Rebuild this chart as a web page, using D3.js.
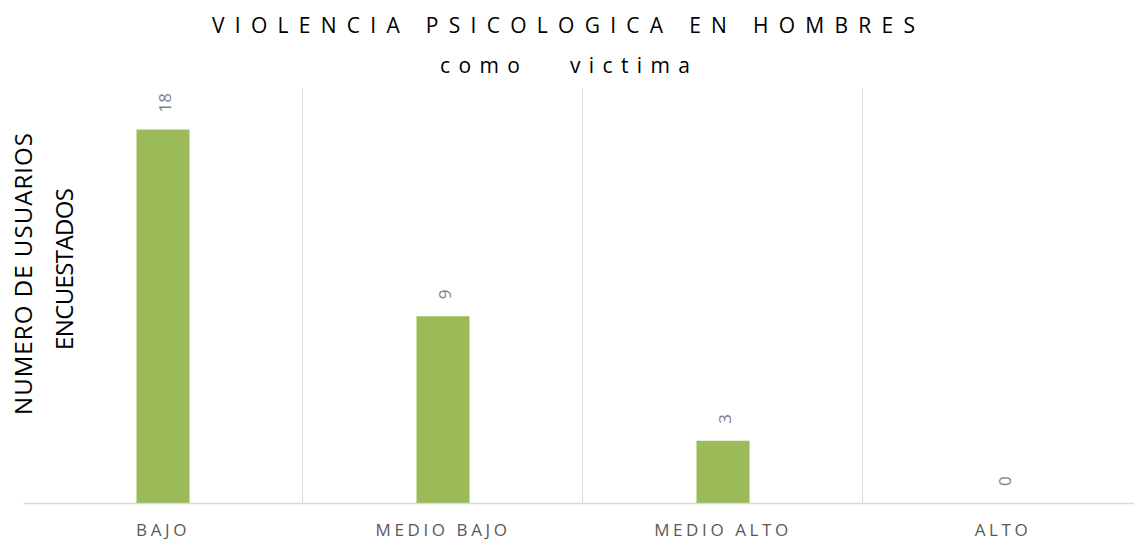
<!DOCTYPE html>
<html>
<head>
<meta charset="utf-8">
<script src="https://cdn.jsdelivr.net/npm/d3@7"></script>
<style>
  body { margin: 0; background: #fff; }
  text { font-family: "Open Sans", sans-serif; }
  .title { white-space: pre; }
</style>
</head>
<body>
<div class="chart"></div>
<script>
var svgWidth = 1134;
var svgHeight = 540;

// data
var categories = ["BAJO", "MEDIO BAJO", "MEDIO ALTO", "ALTO"];
var values = [18, 9, 3, 0];
var yTicks = [0, 20];

var margin = {top: 88, right: -9, bottom: 37, left: 23};
var width = svgWidth - margin.left - margin.right;
var height = svgHeight - margin.top - margin.bottom;

var svg = d3.select(".chart")
  .append("svg")
  .attr("width", svgWidth)
  .attr("height", svgHeight);

var chart = svg.append("g")
  .attr("transform", "translate(" + margin.left + "," + margin.top + ")");

var xScale = d3.scaleBand().domain(categories).range([0, width]);
var yScale = d3.scaleLinear().domain(d3.extent(yTicks)).range([height, 0]);

// vertical gridlines between categories
chart.selectAll(".grid")
  .data(categories.slice(1))
  .enter().append("line")
  .attr("x1", function(d) { return xScale(d) - 0.5; })
  .attr("x2", function(d) { return xScale(d) - 0.5; })
  .attr("y1", 0)
  .attr("y2", height)
  .attr("stroke", "#d9d9d9")
  .attr("stroke-width", 1);

// bars
var barW = 53;
chart.selectAll(".bar")
  .data(values)
  .enter().append("rect")
  .attr("x", function(d, i) { return xScale(categories[i]) + xScale.bandwidth() / 2 - barW / 2; })
  .attr("y", function(d) { return yScale(d); })
  .attr("width", barW)
  .attr("height", function(d) { return height - yScale(d); })
  .attr("fill", "#9bbb59");

// value labels, rotated
chart.selectAll(".labels")
  .data(values)
  .enter().append("text")
  .attr("transform", function(d, i) {
    var x = xScale(categories[i]) + xScale.bandwidth() / 2 + 2;
    var y = yScale(d) - 17;
    return "translate(" + x + "," + y + ") rotate(-90)";
  })
  .attr("dy", "0.35em")
  .attr("fill", "#7f7f7f")
  .style("font-size", "17px")
  .text(function(d) { return d; });

// x axis
var bottomAxis = d3.axisBottom(xScale).tickSize(0).tickPadding(21);
var xAxis = chart.append("g")
  .attr("transform", "translate(0," + height + ")")
  .call(bottomAxis);
xAxis.select(".domain").attr("stroke", "#d9d9d9").attr("stroke-width", 1.5);
xAxis.selectAll("text")
  .attr("fill", "#595959")
  .style("font-family", "Open Sans, sans-serif")
  .style("font-size", "17px")
  .style("letter-spacing", "3.6px");

// title
svg.append("text")
  .attr("class", "title")
  .attr("x", 212)
  .attr("y", 33)
  .attr("textLength", 703)
  .attr("lengthAdjust", "spacing")
  .style("font-size", "21px")
  .attr("fill", "#000")
  .text("VIOLENCIA PSICOLOGICA EN HOMBRES");

svg.append("text")
  .attr("class", "title")
  .attr("x", 440)
  .attr("y", 73)
  .attr("textLength", 250)
  .attr("lengthAdjust", "spacing")
  .style("font-size", "21px")
  .attr("fill", "#000")
  .text("como   victima");

// y axis label, two lines
svg.append("text")
  .attr("transform", "translate(32,274) rotate(-90)")
  .attr("text-anchor", "middle")
  .attr("textLength", 282)
  .attr("lengthAdjust", "spacing")
  .style("font-size", "24px")
  .attr("fill", "#000")
  .text("NUMERO DE USUARIOS");

svg.append("text")
  .attr("transform", "translate(73,269) rotate(-90)")
  .attr("text-anchor", "middle")
  .attr("textLength", 162)
  .attr("lengthAdjust", "spacing")
  .style("font-size", "24px")
  .attr("fill", "#000")
  .text("ENCUESTADOS");
</script>
</body>
</html>
